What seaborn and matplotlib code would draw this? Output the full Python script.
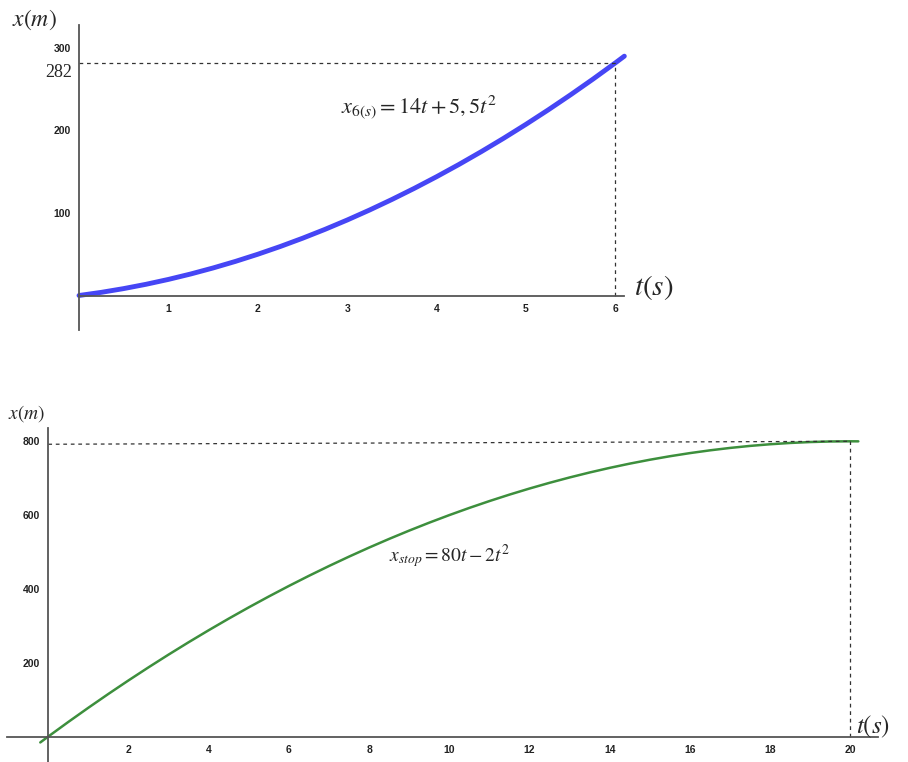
import numpy as np
import pandas as pd
import matplotlib
matplotlib.use("Agg")
import matplotlib.pyplot as plt
import seaborn as sns

# --- data ---
# top graph: x = 14t + 5,5t^2, sampled every 0.25 s
t_top = [0, 0.25, 0.5, 0.75, 1, 1.25, 1.5, 1.75, 2, 2.25, 2.5, 2.75, 3, 3.25, 3.5, 3.75,
         4, 4.25, 4.5, 4.75, 5, 5.25, 5.5, 5.75, 6, 6.1]
x_top = [0, 3.84, 8.38, 13.59, 19.5, 26.09, 33.38, 41.34, 50, 59.34, 69.38, 80.09, 91.5,
         103.59, 116.38, 129.84, 144, 158.84, 174.38, 190.59, 207.5, 225.09, 243.38,
         262.34, 282, 290.1]
top_xticks = [1, 2, 3, 4, 5, 6]
top_yticks = [100, 200, 300]
t_mark_top, x_mark_top = 6, 282

# bottom graph: x = 80t - 2t^2, sampled every 0.5 s
t_bot = [-0.2, 0, 0.5, 1, 1.5, 2, 2.5, 3, 3.5, 4, 4.5, 5, 5.5, 6, 6.5, 7, 7.5, 8, 8.5, 9,
         9.5, 10, 10.5, 11, 11.5, 12, 12.5, 13, 13.5, 14, 14.5, 15, 15.5, 16, 16.5, 17,
         17.5, 18, 18.5, 19, 19.5, 20, 20.2]
x_bot = [-16.1, 0, 39.5, 78, 115.5, 152, 187.5, 222, 255.5, 288, 319.5, 350, 379.5, 408,
         435.5, 462, 487.5, 512, 535.5, 558, 579.5, 600, 619.5, 638, 655.5, 672, 687.5,
         702, 715.5, 728, 739.5, 750, 759.5, 768, 775.5, 782, 787.5, 792, 795.5, 798,
         799.5, 800, 799.9]
bot_xticks = [2, 4, 6, 8, 10, 12, 14, 16, 18, 20]
bot_yticks = [200, 400, 600, 800]
t_mark_bot, x_mark_bot = 20, 800

sns.set_style("white")
plt.rcParams["mathtext.fontset"] = "stix"
plt.rcParams["font.family"] = ["Liberation Sans", "DejaVu Sans"]

W, H = 908, 762
fig = plt.figure(figsize=(W / 100, H / 100), dpi=100)


def axes_from_origin(ox, oy, sx, sy, xlim, ylim):
    # place an axes so that data (0,0) lands on pixel (ox, oy)
    left = ox + xlim[0] * sx
    right = ox + xlim[1] * sx
    bottom = oy - ylim[0] * sy
    top = oy - ylim[1] * sy
    ax = fig.add_axes([left / W, 1 - bottom / H, (right - left) / W, (bottom - top) / H])
    ax.set_xlim(xlim)
    ax.set_ylim(ylim)
    return ax


def style_axes(ax, xb, yb, xticks, yticks):
    for s in ["top", "right"]:
        ax.spines[s].set_visible(False)
    for s in ["left", "bottom"]:
        ax.spines[s].set_position(("data", 0))
        ax.spines[s].set_color("#555555")
        ax.spines[s].set_linewidth(1.3)
    ax.spines["bottom"].set_bounds(*xb)
    ax.spines["left"].set_bounds(*yb)
    ax.set_xticks(xticks)
    ax.set_yticks(yticks)
    ax.tick_params(direction="inout", length=6, width=1, colors="#444444",
                   labelsize=7.5, labelcolor="#222222", pad=3)
    for lab in ax.get_xticklabels() + ax.get_yticklabels():
        lab.set_fontweight("bold")
    ax.set_xlabel("")
    ax.set_ylabel("")
    ax.patch.set_alpha(0)


# top graph
ax1 = axes_from_origin(79, 295.5, 89.4, 0.825, (-0.4, 6.5), (-45, 330))
sns.lineplot(x=t_top, y=x_top, ax=ax1, color="#4646f5", linewidth=3.5, sort=False)
ax1.plot([0, t_mark_top], [x_mark_top, x_mark_top], ls=(0, (3, 3)), color="#333333", lw=0.9)
ax1.plot([t_mark_top, t_mark_top], [0, x_mark_top], ls=(0, (3, 3)), color="#333333", lw=0.9)
style_axes(ax1, (0, 6.1), (-42, 328), top_xticks, top_yticks)
ax1.text(-0.08, 270, "282", ha="right", va="center", fontsize=13,
         family=["Liberation Serif", "DejaVu Serif"])
ax1.text(2.93, 228, r"$x_{6(s)}=14t+5,5t^2$", fontsize=16, va="center", ha="left")

# bottom graph
ax2 = axes_from_origin(48.3, 736.5, 40.1, 0.369, (-1.1, 21.4), (-70, 850))
sns.lineplot(x=t_bot, y=x_bot, ax=ax2, color="#3d8f3d", linewidth=1.8, sort=False)
ax2.plot([0, t_mark_bot], [x_mark_bot - 8, x_mark_bot], ls=(0, (3, 3)), color="#333333", lw=0.9)
ax2.plot([t_mark_bot, t_mark_bot], [0, x_mark_bot], ls=(0, (3, 3)), color="#333333", lw=0.9)
style_axes(ax2, (-1.03, 20.7), (-70, 835), bot_xticks, bot_yticks)
ax2.text(8.5, 490, r"$x_{stop}=80t-2t^2$", fontsize=14, va="center", ha="left")

# axis names
fig.text(12 / W, 1 - 20 / H, r"$x\left(m\right)$", fontsize=17, va="center", ha="left")
fig.text(634 / W, 1 - 287 / H, r"$t\left(s\right)$", fontsize=21, va="center", ha="left")
fig.text(8 / W, 1 - 414 / H, r"$x\left(m\right)$", fontsize=14, va="center", ha="left")
fig.text(856 / W, 1 - 727 / H, r"$t\left(s\right)$", fontsize=18, va="center", ha="left")

fig.savefig("out.png", dpi=100)
